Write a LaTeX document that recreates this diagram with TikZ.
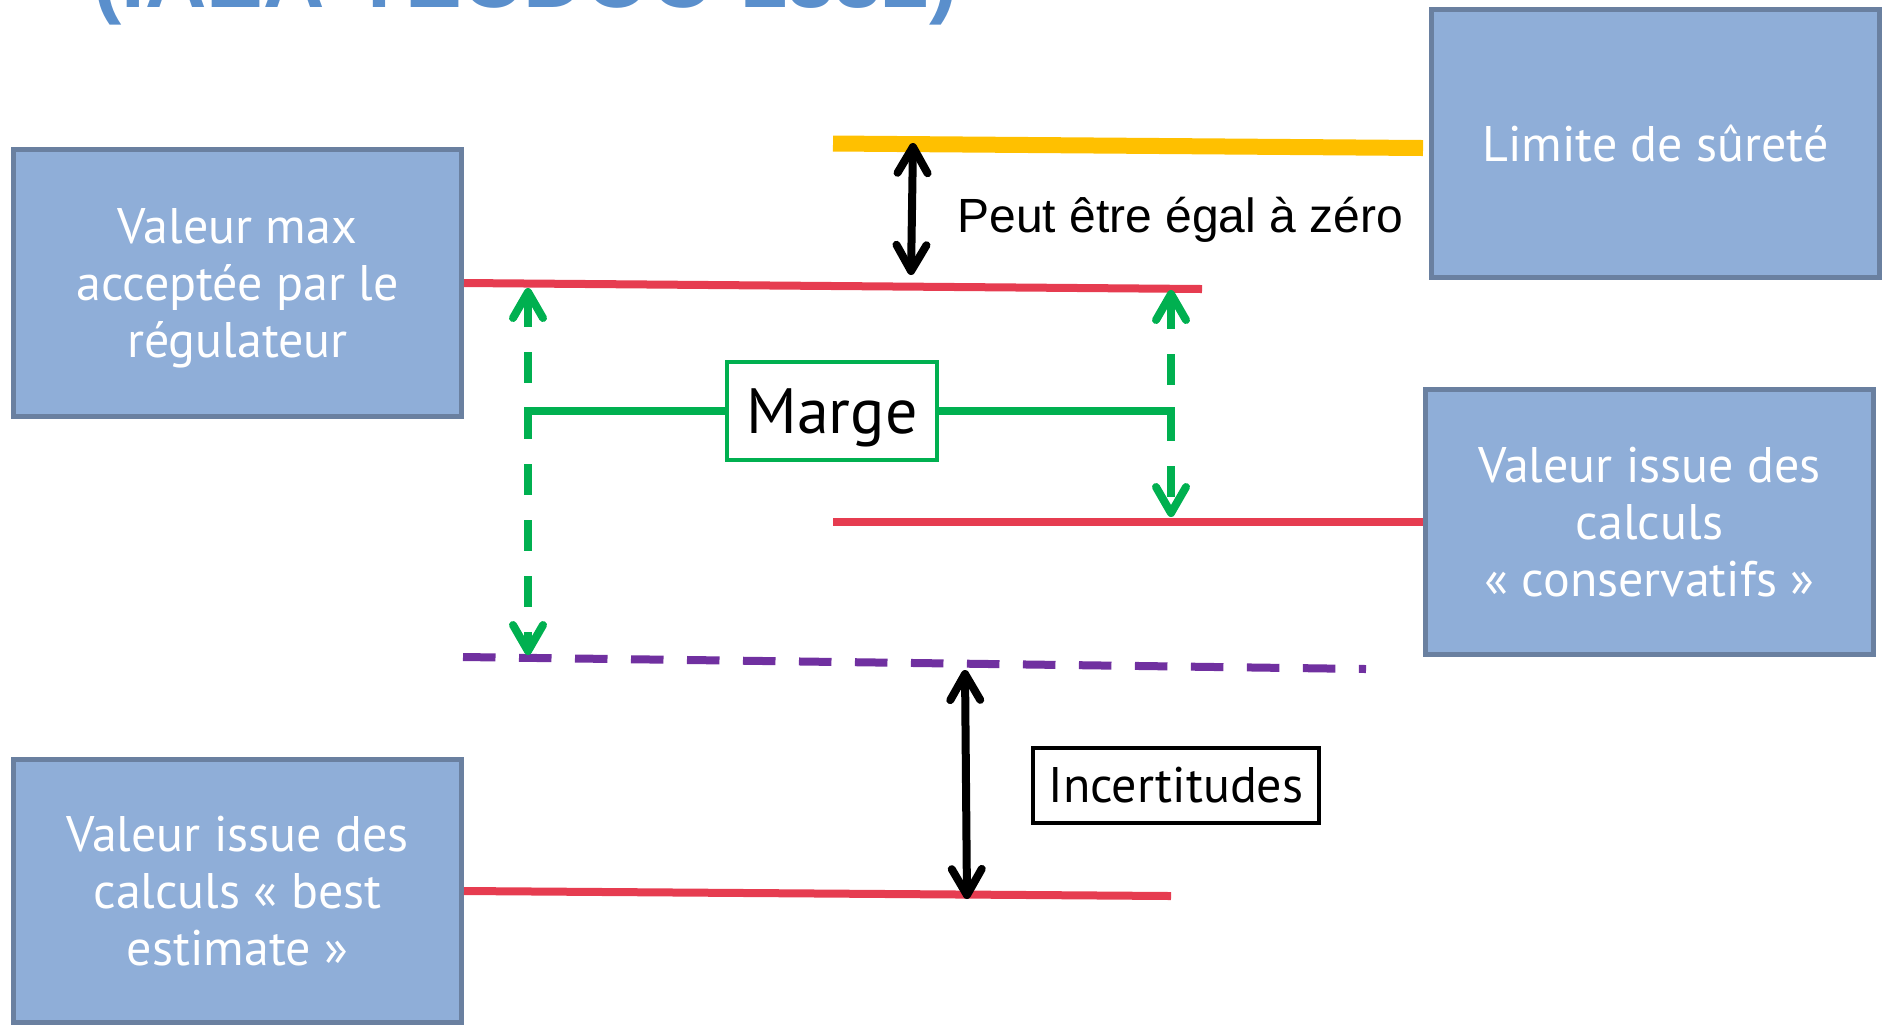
\documentclass[tikz,border=0pt]{standalone}
\usepackage{fontspec}
\setmainfont{Liberation Sans}
\newfontfamily\boxfont{PT Sans}
\usetikzlibrary{arrows.meta}
\definecolor{boxfill}{HTML}{8FAED8}
\definecolor{boxline}{HTML}{6A80A0}
\definecolor{redline}{HTML}{E63C50}
\definecolor{orangeline}{HTML}{FFC000}
\definecolor{greenline}{HTML}{00B050}
\definecolor{purpleline}{HTML}{7030A0}
\definecolor{titleblue}{HTML}{5A8FCC}
\begin{document}
\begin{tikzpicture}[x=0.5pt,y=-0.5pt,
  bluebox/.style={draw=boxline, fill=boxfill, line width=2.5pt, text=white, align=center,
    inner sep=0pt, font=\boxfont\fontsize{25}{28.5}\selectfont, minimum width=224pt},
  level/.style={line width=4pt, draw=redline},
  barb/.style={line width=4pt,
    {Straight Barb[length=13pt,width=15pt,round]}-{Straight Barb[length=13pt,width=15pt,round]}},
  gdash/.style={draw=greenline, dash pattern=on 15.5pt off 12.5pt},
  link/.style={draw=greenline, line width=4pt},
  labelbox/.style={line width=2pt, inner sep=0pt, fill=white}]
\useasboundingbox (0,0) rectangle (1883,1025);
\clip (0,0) rectangle (1883,1025);

% title (cut at the top of the picture)
\node[anchor=base west, inner sep=0pt, text=titleblue,
  font=\bfseries\fontsize{42.5}{50}\selectfont] (title) at (93,7) {(IAEA-TECDOC-1332)};

% boxes
\node[bluebox, minimum height=134pt] (limite) at (1655.5,143.5) {Limite de sûreté};
\node[bluebox, minimum height=133.5pt] (vmax) at (237.5,283) {Valeur max\\acceptée par le\\\smash{régulateur}};
\node[bluebox, minimum height=132.5pt] (cons) at (1649.5,522) {Valeur issue des\\calculs\\« conservatifs »};
\node[bluebox, minimum height=131.5pt] (best) at (237.5,891) {Valeur issue des\\calculs « best\\estimate »};

% level lines
\coordinate (oL) at (833,143.5);
\coordinate (oR) at (1423,148);
\coordinate (rTopR) at (1202,289);
\coordinate (rMidL) at (833,522);
\coordinate (rBotR) at (1171,896);
\coordinate (pL) at (463,657);
\coordinate (pR) at (1366,669);

\draw[orangeline, line width=8pt] (oL) -- (oR);
\draw[level] (vmax.east) -- (rTopR);
\draw[level] (rMidL) -- (cons.west);
\draw[level] (best.east) -- (rBotR);
\draw[purpleline, line width=4pt, dash pattern=on 16.25pt off 11.75pt] (pL) -- (pR);

% black arrows
\coordinate (a1t) at (913,143);
\coordinate (a1b) at (911,275);
\coordinate (a2t) at (965,670);
\coordinate (a2b) at (967,899);
\draw[barb, black] (a1t) -- (a1b);
\draw[barb, black] (a2t) -- (a2b);

% green dashed arrows
\coordinate (g1t) at (528,288);
\coordinate (g1b) at (528,655);
\coordinate (g2t) at (1171,290);
\coordinate (g2b) at (1171,517);
\draw[barb, gdash] (g1t) -- (g1b);
\draw[barb, gdash] (g2t) -- (g2b);

% labels
\node[labelbox, draw=greenline, minimum width=105pt, minimum height=49pt,
  text height=22.5pt, text depth=0pt,
  font=\boxfont\fontsize{32}{38}\selectfont] (marge) at (832,411) {Marge};
\coordinate (mL) at (528,437);
\coordinate (mR) at (1171,437);
\draw[link] (marge.west) -| (mL);
\draw[link] (marge.east) -| (mR);

\node[labelbox, draw=black, minimum width=143pt, minimum height=37.5pt,
  font=\boxfont\fontsize{25}{30}\selectfont] (inc) at (1176,785.5) {Incertitudes};

\node[anchor=base west, inner sep=0pt, font=\fontsize{24}{28}\selectfont] (peut) at (957,232) {Peut être égal à zéro};
\end{tikzpicture}
\end{document}
